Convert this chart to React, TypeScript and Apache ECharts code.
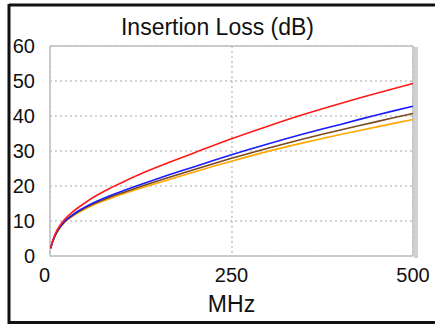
import React, { useEffect, useRef } from "react";
import * as echarts from "echarts";

const freqs = [1, 4, 10, 20, 30, 40, 60, 85, 100, 130, 160, 200, 250, 300, 350, 400, 450, 500];
const redLoss = [2.2, 4.6, 7.5, 10.4, 12.4, 14.0, 16.8, 19.6, 21.1, 23.9, 26.4, 29.6, 33.5, 37.1, 40.5, 43.6, 46.5, 49.3];
const blueLoss = [2.2, 4.4, 7.1, 9.9, 11.6, 13.0, 15.2, 17.4, 18.6, 20.8, 22.9, 25.6, 28.9, 32.0, 34.9, 37.6, 40.3, 42.8];
const brownLoss = [2.2, 4.4, 7.0, 9.8, 11.4, 12.8, 14.9, 17.0, 18.1, 20.2, 22.2, 24.8, 27.9, 30.8, 33.5, 36.0, 38.4, 40.7];
const orangeLoss = [2.2, 4.3, 6.9, 9.6, 11.2, 12.5, 14.6, 16.6, 17.7, 19.7, 21.6, 24.1, 27.1, 29.9, 32.4, 34.7, 36.9, 39.0];

const seriesDefs = [
  { name: "Orange", values: orangeLoss, color: "#ffa800" },
  { name: "Brown", values: brownLoss, color: "#7a4a1e" },
  { name: "Blue", values: blueLoss, color: "#1a1aff" },
  { name: "Red", values: redLoss, color: "#ff1a1a" },
];

export default function App() {
  const ref = useRef<HTMLDivElement>(null);
  useEffect(() => {
    if (!ref.current) return;
    const chart = echarts.init(ref.current, null, { renderer: "svg" });
    const font = "Liberation Sans, Arial, sans-serif";
    chart.setOption({
      animation: false,
      backgroundColor: "#ffffff",
      title: {
        text: "Insertion Loss (dB)",
        left: "center",
        top: 10,
        textStyle: { fontFamily: font, fontSize: 23, fontWeight: "normal", color: "#111" },
      },
      grid: { left: 50, right: 22, top: 46, bottom: 68, show: true, borderColor: "#9a9a9a", borderWidth: 1 },
      xAxis: {
        type: "value",
        min: 0,
        max: 500,
        interval: 250,
        name: "MHz",
        nameLocation: "middle",
        nameGap: 36,
        nameTextStyle: { fontFamily: font, fontSize: 23, color: "#111" },
        axisLine: { show: false },
        axisTick: { show: false },
        axisLabel: { margin: 9, fontFamily: font, fontSize: 20, color: "#111", alignMinLabel: "right" },
        splitLine: { show: true, lineStyle: { color: "#c4c4c4", type: [2, 3], width: 1.5 } },
      },
      yAxis: {
        type: "value",
        min: 0,
        max: 60,
        interval: 10,
        axisLine: { show: false },
        axisTick: { show: false },
        axisLabel: { margin: 15, fontFamily: font, fontSize: 20, color: "#111" },
        splitLine: { show: true, lineStyle: { color: "#c4c4c4", type: [2, 3], width: 1.5 } },
      },
      series: seriesDefs.map((s) => ({
        type: "line",
        name: s.name,
        data: freqs.map((f, i) => [f, s.values[i]]),
        smooth: 0.3,
        showSymbol: false,
        lineStyle: { color: s.color, width: 1.6 },
        z: 3,
      })),
      graphic: [
        { type: "rect", shape: { x: 414, y: 47, width: 4, height: 211 }, style: { fill: "#d0d0d0" }, silent: true },
        { type: "line", shape: { x1: 9, y1: 5, x2: 435, y2: 5 }, style: { stroke: "#111", lineWidth: 3 }, silent: true },
        { type: "line", shape: { x1: 9, y1: 4, x2: 9, y2: 324 }, style: { stroke: "#111", lineWidth: 3 }, silent: true },
        { type: "line", shape: { x1: 9, y1: 322.5, x2: 435, y2: 322.5 }, style: { stroke: "#111", lineWidth: 3 }, silent: true },
      ],
    });
    return () => chart.dispose();
  }, []);
  return <div ref={ref} style={{ width: 435, height: 324, position: "absolute", left: 0, top: 0 }} />;
}
